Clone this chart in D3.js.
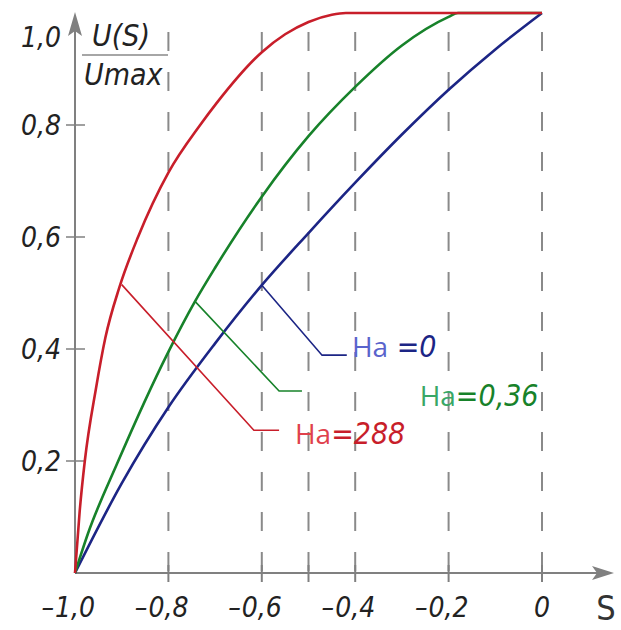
<!DOCTYPE html>
<html>
<head>
<meta charset="utf-8">
<script src="https://cdn.jsdelivr.net/npm/d3@7"></script>
<style>
  body { margin: 0; background: #fff; }
  text { font-family: "DejaVu Sans Condensed", "DejaVu Sans", sans-serif; }
</style>
</head>
<body>
<script>
// data
const xTicks = [-1.0, -0.8, -0.6, -0.4, -0.2, 0];
const gridX = [-0.8, -0.6, -0.5, -0.4, -0.2, 0];
const yTicks = [0.2, 0.4, 0.6, 0.8];

const sBlue = [-1.0, -0.9, -0.8, -0.7, -0.6, -0.5, -0.4, -0.3, -0.2, -0.1, 0];
const uBlue = [0, 0.16, 0.296, 0.41, 0.514, 0.607, 0.697, 0.783, 0.863, 0.935, 1.0];

const sGreen = [-1.0, -0.972, -0.91, -0.8, -0.743, -0.7, -0.6, -0.5, -0.4, -0.3, -0.2, -0.18, 0];
const uGreen = [0, 0.071, 0.195, 0.395, 0.485, 0.545, 0.672, 0.78, 0.868, 0.942, 0.993, 1.0, 1.0];

const sRed = [-1.0, -0.99, -0.979, -0.955, -0.935, -0.905, -0.865, -0.8, -0.732, -0.696, -0.6, -0.55, -0.5, -0.45, -0.42, 0];
const uRed = [0, 0.11, 0.2, 0.33, 0.42, 0.51, 0.6, 0.715, 0.8, 0.84, 0.93, 0.962, 0.984, 0.997, 1.0, 1.0];

// leader lines (value coordinates)
const leadBlue = [[-0.6, 0.514], [-0.471, 0.389], [-0.418, 0.389]];
const leadGreen = [[-0.743, 0.485], [-0.563, 0.325], [-0.514, 0.325]];
const leadRed = [[-0.9, 0.515], [-0.617, 0.255], [-0.563, 0.255]];

const labels = [
  {pre: "Ha", val: " =0", x: -0.407, y: 0.385, c: "#1c2585", cl: "#5a63cc"},
  {pre: "Ha", val: "=0,36", x: -0.262, y: 0.298, c: "#17822a", cl: "#39a766"},
  {pre: "Ha", val: "=288", x: -0.529, y: 0.23, c: "#c81e2a", cl: "#e0414c"}
];

const W = 621, H = 630;
const x = d3.scaleLinear().domain([-1, 0]).range([75, 542]);
const y = d3.scaleLinear().domain([0, 1]).range([573, 13]);

const svg = d3.select("body").append("svg").attr("width", W).attr("height", H);

// dashed verticals
svg.append("g").selectAll("line").data(gridX).enter().append("line")
  .attr("x1", d => x(d)).attr("x2", d => x(d))
  .attr("y1", 32).attr("y2", y(0))
  .attr("stroke", "#8a8a8a").attr("stroke-width", 2)
  .attr("stroke-dasharray", "19,21");

// axes
const axCol = "#808080";
svg.append("line").attr("x1", x(-1)).attr("x2", 600).attr("y1", y(0)).attr("y2", y(0))
  .attr("stroke", axCol).attr("stroke-width", 2);
svg.append("path").attr("d", `M614,${y(0)} L592,${y(0) - 7} L597,${y(0)} L592,${y(0) + 7} Z`).attr("fill", axCol);
svg.append("line").attr("x1", x(-1)).attr("x2", x(-1)).attr("y1", y(0)).attr("y2", 30)
  .attr("stroke", axCol).attr("stroke-width", 2);
svg.append("path").attr("d", `M${x(-1)},12 L${x(-1) - 7},36 L${x(-1)},31 L${x(-1) + 7},36 Z`).attr("fill", axCol);

// ticks
svg.append("g").selectAll("line").data(gridX).enter().append("line")
  .attr("x1", d => x(d)).attr("x2", d => x(d))
  .attr("y1", y(0) - 8).attr("y2", y(0) + 9)
  .attr("stroke", axCol).attr("stroke-width", 2);
svg.append("g").selectAll("line").data(yTicks).enter().append("line")
  .attr("x1", x(-1) - 9).attr("x2", x(-1) + 10)
  .attr("y1", d => y(d)).attr("y2", d => y(d))
  .attr("stroke", axCol).attr("stroke-width", 1.5);

const fmt = d => d === 0 ? "0" : d3.format(".1f")(Math.abs(d)).replace(".", ",");

// x tick labels: number centred on tick, minus hanging to the left
const xl = svg.append("g").selectAll("g").data(xTicks).enter().append("g");
xl.append("text")
  .attr("x", d => x(d)).attr("y", 617)
  .attr("text-anchor", "middle").attr("font-size", 28).attr("font-style", "oblique")
  .attr("fill", "#222")
  .text(fmt)
  .each(function(d) {
    if (d < 0) {
      const w = this.getComputedTextLength();
      d3.select(this.parentNode).append("text")
        .attr("x", x(d) - w / 2 - 1).attr("y", 617)
        .attr("text-anchor", "end").attr("font-size", 28).attr("font-style", "oblique")
        .attr("fill", "#222").text("\u2013");
    }
  });

svg.append("g").selectAll("text").data(yTicks).enter().append("text")
  .attr("x", 61).attr("y", d => y(d) + 10)
  .attr("text-anchor", "end").attr("font-size", 28).attr("font-style", "oblique")
  .attr("fill", "#222")
  .text(fmt);
svg.append("text").attr("x", 61).attr("y", 47).attr("text-anchor", "end")
  .attr("font-size", 28).attr("font-style", "oblique").attr("fill", "#222").text("1,0");
svg.append("text").attr("x", 606).attr("y", 620).attr("text-anchor", "middle")
  .attr("font-size", 34).attr("fill", "#333").text("S");

// y axis title
svg.append("text").attr("x", 92).attr("y", 46).attr("font-size", 30).attr("font-style", "oblique")
  .attr("fill", "#222").text("U(S)");
svg.append("line").attr("x1", 82).attr("x2", 168).attr("y1", 55).attr("y2", 55)
  .attr("stroke", "#888").attr("stroke-width", 1.5);
svg.append("text").attr("x", 84).attr("y", 85).attr("font-size", 30).attr("font-style", "oblique")
  .attr("fill", "#222").text("Umax");

// curves
const line = d3.line().x(d => x(d[0])).y(d => y(d[1])).curve(d3.curveMonotoneX);
const curves = [
  {s: sBlue, u: uBlue, c: "#1c2585"},
  {s: sGreen, u: uGreen, c: "#17822a"},
  {s: sRed, u: uRed, c: "#c81e2a"}
];
curves.forEach(k => {
  svg.append("path").datum(d3.zip(k.s, k.u)).attr("d", line)
    .attr("fill", "none").attr("stroke", k.c).attr("stroke-width", 2.6);
});

// leaders
const straight = d3.line().x(d => x(d[0])).y(d => y(d[1]));
[[leadBlue, "#1c2585"], [leadGreen, "#17822a"], [leadRed, "#c81e2a"]].forEach(p => {
  svg.append("path").attr("d", straight(p[0])).attr("fill", "none")
    .attr("stroke", p[1]).attr("stroke-width", 1.6);
});

labels.forEach(l => {
  const t = svg.append("text").attr("x", x(l.x)).attr("y", y(l.y)).attr("font-size", 28);
  t.append("tspan").attr("fill", l.cl).attr("font-family", "Open Sans, sans-serif").text(l.pre);
  t.append("tspan").attr("fill", l.c).attr("font-style", "oblique").attr("font-size", 30).text(l.val);
});
</script>
</body>
</html>
